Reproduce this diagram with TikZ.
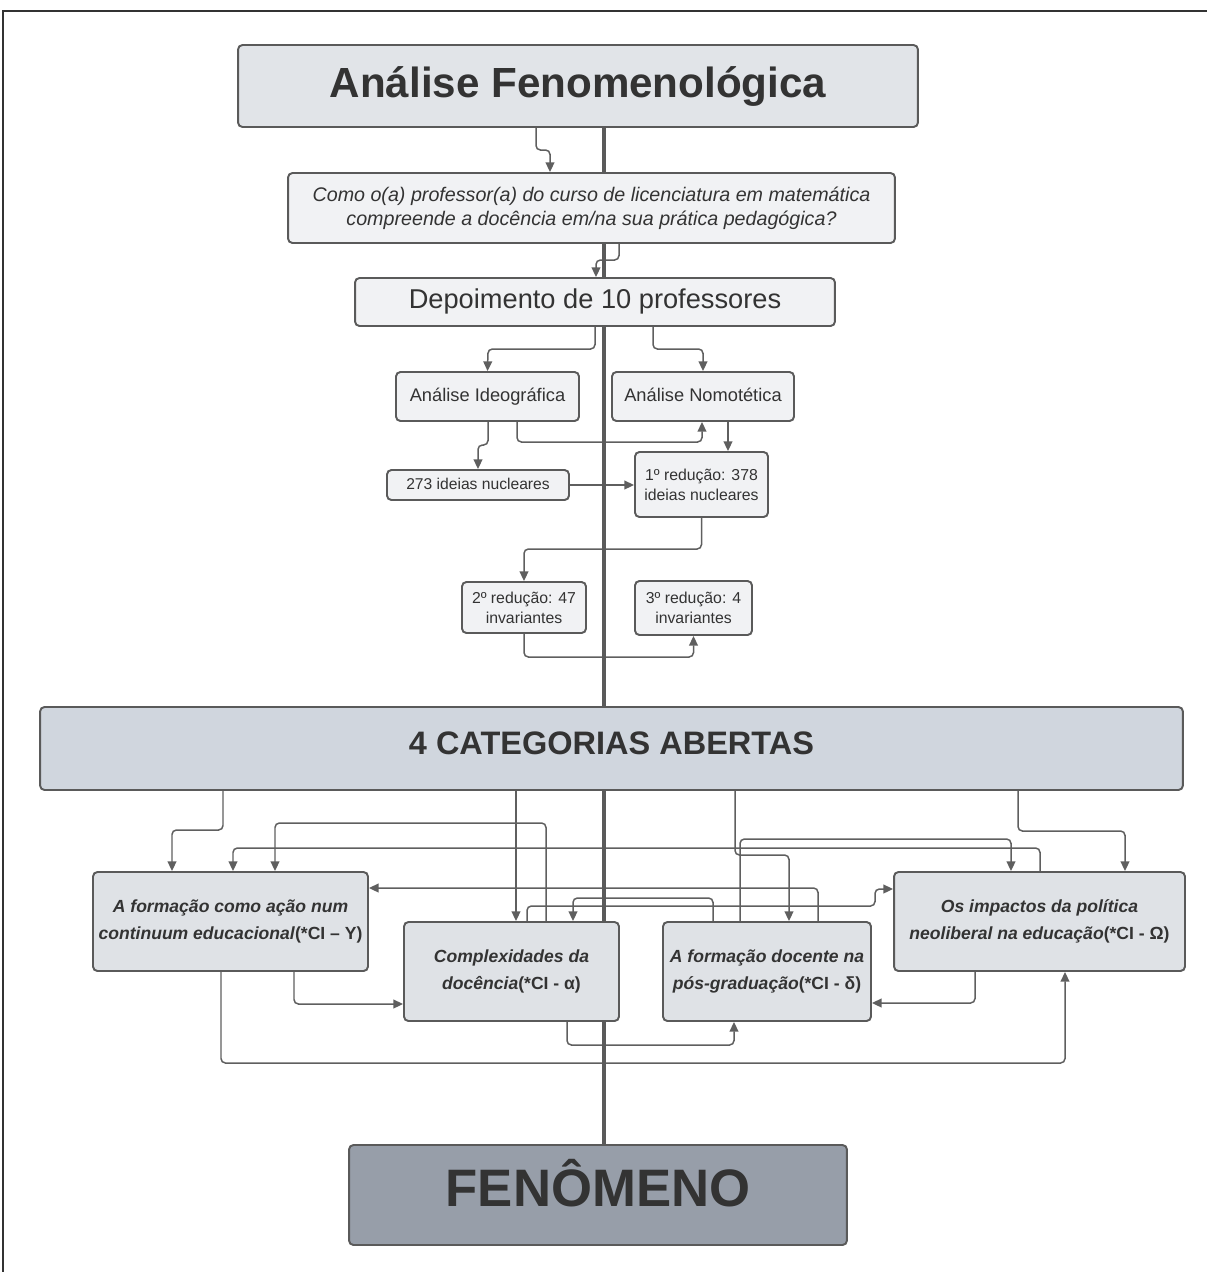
\documentclass[tikz,border=0pt]{standalone}
\usepackage{fontspec}
\setmainfont{Liberation Sans}
\usepackage{tikz}
\usetikzlibrary{arrows.meta, positioning, backgrounds}

\definecolor{borda}{HTML}{5A5A5A}
\definecolor{linha}{HTML}{5F5F5F}
\definecolor{texto}{HTML}{333333}
\definecolor{fundotopo}{HTML}{E1E4E8}
\definecolor{fundoclaro}{HTML}{F1F2F4}
\definecolor{fundocat}{HTML}{D0D6DE}
\definecolor{fundoci}{HTML}{DFE2E6}
\definecolor{fundofen}{HTML}{979EA9}

\newcommand{\fs}[2]{\fontsize{#1}{#2}\selectfont}

\begin{document}
\begin{tikzpicture}[
    x=0.02cm, y=-0.02cm,
    caixa/.style={rectangle, rounded corners=2.5pt, draw=borda, line width=1.1pt,
                  text=texto, inner sep=0pt, align=center},
    umalinha/.style 2 args={text height=#1, text depth=#2},
    seta/.style={draw=linha, line width=0.85pt, rounded corners=2.5pt,
                 -{Triangle[length=5.5pt,width=5pt]}},
    tronco/.style={draw=borda, line width=1.9pt}
]
\useasboundingbox (0,0) rectangle (1207,1272);
\draw[line width=1.1pt, texto] (3,1272) -- (3,11) -- (1207,11);

% etapas da analise
\node[caixa, umalinha={17.3pt}{4.6pt}, fill=fundotopo, minimum width=13.6cm,
      minimum height=1.64cm, font=\fs{24}{28}\bfseries] (topo) at (578,86)
      {Análise Fenomenológica};
\node[caixa, fill=fundoclaro, minimum width=12.14cm, minimum height=1.4cm,
      font=\fs{11.2}{13.6}\itshape] (pergunta) at (591.5,208)
      {Como o(a) professor(a) do curso de licenciatura em matemática\\
       compreende a docência em/na sua prática pedagógica?};
\node[caixa, umalinha={11.2pt}{3.4pt}, fill=fundoclaro, minimum width=9.6cm,
      minimum height=0.96cm, font=\fs{15.5}{18}] (depo) at (595,302)
      {Depoimento de 10 professores};
\node[caixa, umalinha={7.5pt}{2.2pt}, fill=fundoclaro, minimum width=3.66cm,
      minimum height=0.98cm, font=\fs{10.4}{12}] (ideo) at (487.5,396.5)
      {Análise Ideográfica};
\node[caixa, umalinha={7.5pt}{2.2pt}, fill=fundoclaro, minimum width=3.64cm,
      minimum height=0.98cm, font=\fs{10.4}{12}] (nomo) at (703,396.5)
      {Análise Nomotética};
\node[caixa, umalinha={7.5pt}{2.2pt}, fill=fundoclaro, minimum width=3.64cm,
      minimum height=0.6cm, font=\fs{8.9}{11}] (n273) at (478,485)
      {273 ideias nucleares};
\node[caixa, fill=fundoclaro, minimum width=2.66cm, minimum height=1.3cm,
      font=\fs{9}{11.3}] (red1) at (701.5,484.5) {1º redução: 378\\ideias nucleares};
\node[caixa, fill=fundoclaro, minimum width=2.48cm, minimum height=1.02cm,
      font=\fs{9}{11.3}] (red2) at (524,607.5) {2º redução: 47\\invariantes};
\node[caixa, fill=fundoclaro, minimum width=2.34cm, minimum height=1.08cm,
      font=\fs{9}{11.3}] (red3) at (693.5,608) {3º redução: 4\\invariantes};

% categorias
\node[caixa, umalinha={13.3pt}{6.2pt}, fill=fundocat, minimum width=22.86cm,
      minimum height=1.66cm, font=\fs{18.5}{22}\bfseries] (cat) at (611.5,748.5)
      {4 CATEGORIAS ABERTAS};
\node[caixa, fill=fundoci, minimum width=5.5cm, minimum height=1.98cm,
      font=\fs{10}{15}\bfseries] (ciy) at (230.5,921.5)
      {\textit{A formação como ação num}\\\textit{continuum educacional}(*CI – Y)};
\node[caixa, fill=fundoci, minimum width=4.3cm, minimum height=1.98cm,
      font=\fs{10}{15}\bfseries] (cialfa) at (511.5,971.5)
      {\textit{Complexidades da}\\\textit{docência}(*CI - α)};
\node[caixa, fill=fundoci, minimum width=4.16cm, minimum height=1.98cm,
      font=\fs{10}{15}\bfseries] (cidelta) at (767,971.5)
      {\textit{A formação docente na}\\\textit{pós-graduação}(*CI - δ)};
\node[caixa, fill=fundoci, minimum width=5.82cm, minimum height=1.98cm,
      font=\fs{10}{15}\bfseries] (ciomega) at (1039.5,921.5)
      {\textit{Os impactos da política}\\\textit{neoliberal na educação}(*CI - Ω)};
\node[caixa, umalinha={21.6pt}{9pt}, fill=fundofen, minimum width=9.96cm,
      minimum height=2.0cm, font=\fs{30}{34}\bfseries] (fen) at (598,1195)
      {FENÔMENO};

\begin{scope}[on background layer]
% ligacoes do topo
\draw[seta] (topo.south -| 536,0) |- (550,150) -- (pergunta.north -| 550,0);
\draw[seta] (pergunta.south -| 619,0) |- (596,260) -- (depo.north -| 596,0);
\draw[seta] (depo.south -| 595,0) |- (488,349) -- (ideo.north);
\draw[seta] (depo.south -| 653,0) |- (703,349) -- (nomo.north);
\draw[seta] (ideo.south -| 488,0) |- (478,445) -- (n273.north -| 478,0);
\draw[seta] (ideo.south -| 517,0) -- (517,442) -| (nomo.south -| 702,0);
\draw[seta] (nomo.south -| 728,0) -- (red1.north -| 728,0);
\draw[seta] (n273.east) -- (red1.west |- n273.east);
\draw[seta] (red1.south) -- (701.5,549) -| (red2.north);
\draw[seta] (red2.south) -- (524,657) -| (red3.south);
% ligacoes das categorias
\draw[seta] (cat.south -| 223,0) -- (223,830) -| (ciy.north -| 172,0);
\draw[seta] (cat.south -| 516,0) -- (cialfa.north -| 516,0);
\draw[seta] (cat.south -| 735,0) -- (735,855) -| (cidelta.north -| 789,0);
\draw[seta] (cat.south -| 1018,0) -- (1018,831) -| (ciomega.north -| 1125,0);
\draw[seta] (cialfa.north -| 546,0) -- (546,823) -| (ciy.north -| 275,0);
\draw[seta] (ciomega.north -| 1040,0) -- (1040,848) -| (ciy.north -| 233,0);
\draw[seta] (cidelta.north -| 818,0) |- (ciy.east |- 0,888);
\draw[seta] (cidelta.north -| 740,0) -- (740,839) -| (ciomega.north -| 1011,0);
\draw[seta] (cidelta.north -| 713,0) -- (713,898) -| (cialfa.north -| 573,0);
\draw[seta] (cialfa.north -| 527,0) |- (875,906) |- (ciomega.west |- 0,889);
\draw[seta] (ciy.south -| 294,0) |- (cialfa.west |- 0,1004);
\draw[seta] (ciy.south -| 221,0) -- (221,1063) -| (ciomega.south -| 1065,0);
\draw[seta] (cialfa.south -| 567,0) -- (567,1045) -| (cidelta.south -| 734,0);
\draw[seta] (ciomega.south -| 975,0) |- (cidelta.east |- 0,1003);
% eixo central
\draw[tronco] (topo.south -| 604,0) -- (fen.north -| 604,0);
\end{scope}
\end{tikzpicture}
\end{document}
